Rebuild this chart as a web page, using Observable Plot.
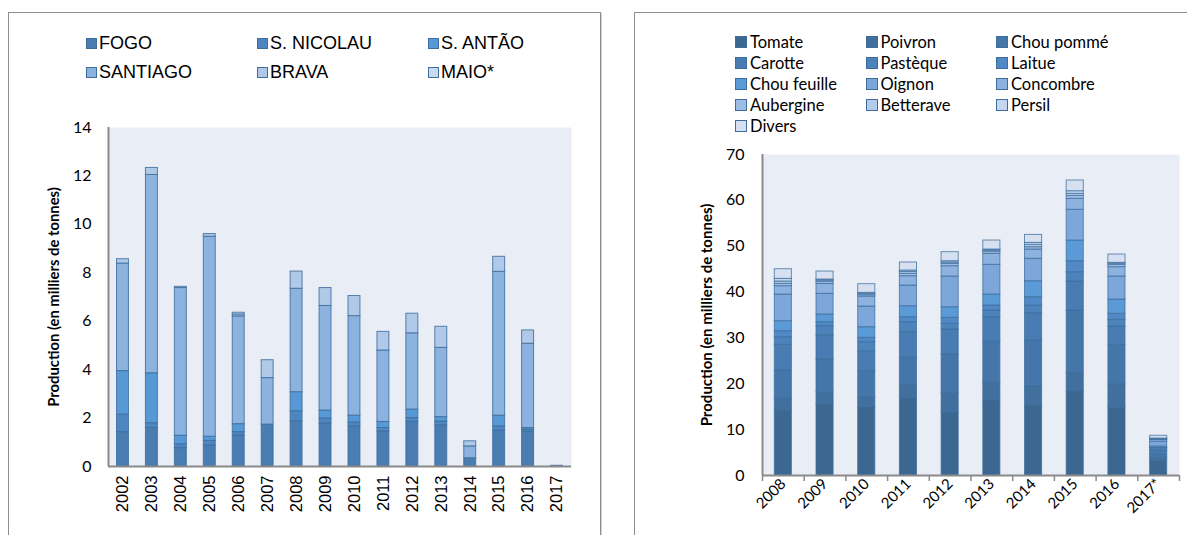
<!DOCTYPE html>
<html><head><meta charset="utf-8">
<script src="https://cdn.jsdelivr.net/npm/d3@7"></script>
<script src="https://cdn.jsdelivr.net/npm/@observablehq/plot@0.6"></script>
<style>
body{margin:0;background:#fff;}
#root{position:relative;width:1187px;height:535px;overflow:hidden;background:#fff;}
.panel{position:absolute;border:1px solid #8e8e8e;box-shadow:1px 1px 0 #d0d0d0;background:#fff;}
.chart{position:absolute;top:0;}
.leg{position:absolute;display:flex;align-items:center;white-space:nowrap;color:#000;}
.sw{display:inline-block;box-sizing:border-box;border:1px solid;}
</style></head><body><div id="root"></div><script>
// ---------- Left chart: production by island ----------
const islandYears = ["2002","2003","2004","2005","2006","2007","2008","2009","2010","2011","2012","2013","2014","2015","2016","2017"];
const islandNames = ["FOGO","S. NICOLAU","S. ANTÃO","SANTIAGO","BRAVA","MAIO*"];
const fogo     = [1.42,1.59,0.76,0.87,1.28,1.73,1.86,1.77,1.66,1.45,1.84,1.70,0.34,1.48,1.45,0];
const sNicolau = [0.72,0.20,0.16,0.19,0.14,0,0.42,0.21,0.16,0.14,0.16,0.16,0,0.18,0.08,0];
const sAntao   = [1.80,2.06,0.35,0.17,0.33,0,0.79,0.33,0.28,0.25,0.35,0.18,0,0.44,0.06,0];
const santiago = [4.44,8.19,6.10,8.26,4.45,1.92,4.27,4.32,4.11,2.95,3.15,2.86,0.49,5.94,3.48,0];
const brava    = [0.18,0.29,0.05,0.11,0.08,0.74,0.71,0.74,0.83,0.77,0.81,0.87,0.21,0.62,0.55,0];
const maio     = [0,0,0,0,0.07,0,0,0,0,0,0,0,0,0,0,0.03];
const islandTicks = [0,2,4,6,8,10,12,14];
const islandColors = ["#4A7DB1","#4D86C1","#5799D6","#8CB2E0","#B1C9E8","#C9D9EE"];

// ---------- Right chart: production by crop ----------
const vegYears = ["2008","2009","2010","2011","2012","2013","2014","2015","2016","2017*"];
const vegNames = ["Tomate","Poivron","Chou pommé","Carotte","Pastèque","Laitue","Chou feuille","Oignon","Concombre","Aubergine","Betterave","Persil","Divers"];
const tomate      = [14.17,15.63,14.90,16.94,13.81,16.35,15.26,18.32,14.76,3.20];
const poivron     = [2.69,2.54,2.18,2.68,4.14,3.86,4.15,4.07,5.08,0.66];
const chouPomme   = [6.04,7.12,5.67,6.18,8.43,9.08,10.03,13.59,8.65,0.72];
const carotte     = [5.59,5.24,4.36,5.45,5.45,5.23,5.96,6.32,4.00,0.72];
const pasteque    = [1.67,2.03,1.96,2.18,1.24,1.46,1.67,2.03,1.46,0.40];
const laitue      = [1.31,0.87,0.95,1.09,1.31,1.09,1.81,2.40,1.31,0.30];
const chouFeuille = [2.18,1.68,2.32,2.40,2.32,2.40,3.49,4.51,3.12,0.30];
const oignon      = [5.82,4.50,4.51,4.51,6.69,6.47,4.88,6.70,5.01,1.09];
const concombre   = [1.81,2.18,2.18,2.03,2.25,2.40,2.03,2.39,2.04,0.37];
const aubergine   = [0.51,0.51,0.30,0.51,0.51,0.50,0.51,0.64,0.51,0.10];
const betterave   = [0.51,0.25,0.25,0.40,0.30,0.25,0.51,0.45,0.25,0.10];
const persil      = [0.58,0.19,0.25,0.33,0.28,0.19,0.43,0.57,0.19,0.10];
const divers      = [2.11,1.74,1.89,1.75,1.97,1.96,1.74,2.34,1.81,0.60];
const vegTicks = [0,10,20,30,40,50,60,70];
const vegColors = ["#3C6790","#41709F","#4576AA","#497CB2","#4C83BB","#5089C5","#5A9AD6","#7DA7DB","#8DB2E0","#9DBDE4","#B3CBE8","#C5D6EE","#D6E0F1"];

const yLabel = "Production (en milliers de tonnes)";
const calib = "Lato, 'Open Sans', sans-serif";
const arial = "'Liberation Sans', Arial, sans-serif";

function rows(cats, names, series) {
  const out = [];
  names.forEach((n, i) => cats.forEach((c, j) => { if (series[i][j] > 0) out.push({cat: c, name: n, value: series[i][j]}); }));
  return out;
}
const islandRows = rows(islandYears, islandNames, [fogo, sNicolau, sAntao, santiago, brava, maio]);
const vegRows = rows(vegYears, vegNames, [tomate, poivron, chouPomme, carotte, pasteque, laitue, chouFeuille, oignon, concombre, aubergine, betterave, persil, divers]);

const root = document.getElementById("root");
function panel(l, t, w, h) { const d = document.createElement("div"); d.className = "panel"; Object.assign(d.style, {left: l+"px", top: t+"px", width: w+"px", height: h+"px"}); root.appendChild(d); }
panel(8, 12, 591, 540);
panel(634, 12, 570, 540);

// left plot
{
  const W = 600, H = 535, mL = 108, mR = 29, mT = 127, mB = 69;
  const step = (W - mL - mR) / islandYears.length;
  const p = Plot.plot({
    width: W, height: H, marginLeft: mL, marginRight: mR, marginTop: mT, marginBottom: mB,
    style: {background: "transparent", fontFamily: calib, color: "#000", overflow: "visible"},
    x: {domain: islandYears, padding: 0, round: false, axis: null},
    y: {domain: [0, 14], axis: null},
    color: {domain: islandNames, range: islandColors},
    marks: [
      Plot.frame({fill: "#E9EDF6", stroke: null}),
      Plot.barY(islandRows, {x: "cat", y: "value", fill: "name", stroke: "#3E6D9C", strokeWidth: 1, strokeOpacity: 0.85, insetLeft: 8.5, insetRight: 8.5}),
      Plot.ruleY([0], {stroke: "#8A8A8A", strokeWidth: 2}),
      Plot.ruleX([islandYears[0]], {dx: -step / 2, stroke: "#8A8A8A", strokeWidth: 2}),
      Plot.axisY({ticks: islandTicks, tickSize: 0, tickPadding: 17, fontSize: 16, fontFamily: calib, label: null}),
      Plot.axisX({tickSize: 0, tickPadding: 9, tickRotate: -90, fontSize: 16.5, fontFamily: arial, label: null}),
      Plot.text([yLabel], {frameAnchor: "left", textAnchor: "middle", dx: -54, rotate: -90, fontSize: 14.8, fontWeight: "bold", fontFamily: calib})
    ]
  });
  p.classList.add("chart"); p.style.left = "0px"; root.appendChild(p);
}

// right plot
{
  const W = 587, H = 535, mL = 162, mR = 8, mT = 154, mB = 60;
  const step = (W - mL - mR) / vegYears.length;
  const p = Plot.plot({
    width: W, height: H, marginLeft: mL, marginRight: mR, marginTop: mT, marginBottom: mB,
    style: {background: "transparent", fontFamily: calib, color: "#000", overflow: "visible"},
    x: {domain: vegYears, padding: 0, round: false, axis: null},
    y: {domain: [0, 70], axis: null},
    color: {domain: vegNames, range: vegColors},
    marks: [
      Plot.frame({fill: "#E9EDF6", stroke: null}),
      Plot.barY(vegRows, {x: "cat", y: "value", fill: "name", stroke: "#3E6D9C", strokeWidth: 1, strokeOpacity: 0.75, insetLeft: 12.3, insetRight: 12.3}),
      Plot.ruleY([0], {stroke: "#8A8A8A", strokeWidth: 2}),
      Plot.ruleX([vegYears[0]], {dx: -step / 2, stroke: "#8A8A8A", strokeWidth: 2}),
      Plot.axisX({tickSize: 6, dx: -step / 2, text: null, stroke: "#8A8A8A", strokeWidth: 1.5, label: null}),
      Plot.axisX([vegYears[vegYears.length - 1]], {tickSize: 6, dx: step / 2, text: null, stroke: "#8A8A8A", strokeWidth: 1.5, label: null}),
      Plot.axisY({ticks: vegTicks, tickSize: 0, tickPadding: 18, fontSize: 16, fontFamily: calib, label: null}),
      Plot.axisX({tickSize: 0, tickPadding: 6, tickRotate: -45, fontSize: 15, fontFamily: calib, label: null}),
      Plot.text([yLabel], {frameAnchor: "left", textAnchor: "middle", dx: -55, rotate: -90, fontSize: 15, fontWeight: "bold", fontFamily: calib})
    ]
  });
  p.classList.add("chart"); p.style.left = "600px"; root.appendChild(p);
}

// legends
function legend(names, colors, x0, colStep, y0, rowStep, cols, font, size, sw, gap) {
  names.forEach((n, i) => {
    const d = document.createElement("div"); d.className = "leg";
    const r = Math.floor(i / cols), c = i % cols;
    Object.assign(d.style, {left: (x0 + c * colStep) + "px", top: (y0 + r * rowStep) + "px", height: "20px", fontFamily: font, fontSize: size + "px"});
    const s = document.createElement("span"); s.className = "sw";
    Object.assign(s.style, {width: sw + "px", height: sw + "px", background: colors[i], borderColor: "#3E6D9C", marginRight: gap + "px"});
    d.appendChild(s); d.appendChild(document.createTextNode(n)); root.appendChild(d);
  });
}
legend(islandNames, islandColors, 86, 171, 33, 29, 3, arial, 18, 11, 2);
legend(vegNames, vegColors, 735, 130.5, 32, 21, 3, calib, 16.5, 12, 3);
</script></body></html>
